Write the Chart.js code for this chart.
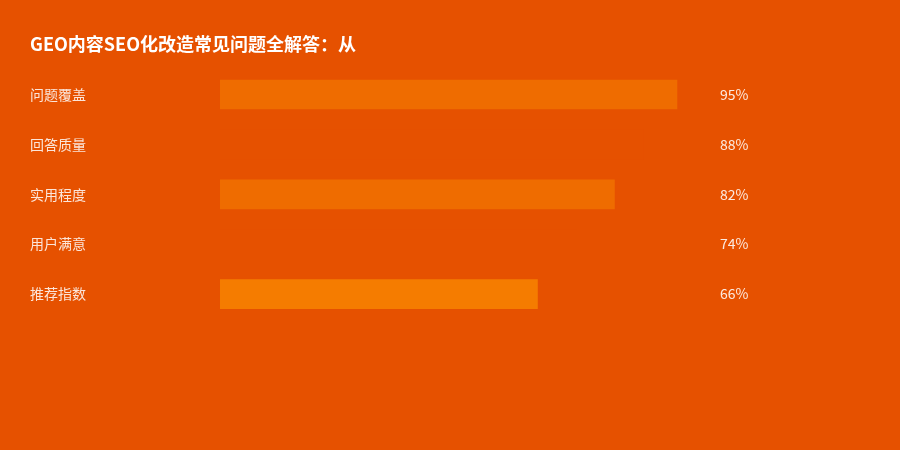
<!DOCTYPE html>
<html>
<head>
<meta charset="utf-8">
<script src="https://cdn.jsdelivr.net/npm/chart.js@4"></script>
<style>
  html, body { margin: 0; padding: 0; background: #E65100; }
  #wrap { width: 900px; height: 450px; }
</style>
</head>
<body>
<div id="wrap"><canvas id="graficoGeo"></canvas></div>
<script>
var categorias = ["问题覆盖", "回答质量", "实用程度", "用户满意", "推荐指数"];
var valores = [95, 88, 82, 74, 66];
var coresBarras = ["#EF6C00", "#E65100", "#EF6C00", "#E65100", "#F57C00"];
var titulo = "GEO内容SEO化改造常见问题全解答：从";

var fonte = "'Noto Sans CJK SC', 'Noto Sans', sans-serif";

// escreve o percentual à direita de cada barra
var rotulosValor = {
  id: "rotulosValor",
  afterDatasetsDraw: function (chart) {
    var ctx = chart.ctx;
    var meta = chart.getDatasetMeta(0);
    ctx.save();
    ctx.font = "14px " + fonte;
    ctx.fillStyle = "rgba(255, 255, 255, 0.88)";
    ctx.textAlign = "left";
    ctx.textBaseline = "middle";
    meta.data.forEach(function (bar, i) {
      ctx.fillText(valores[i] + "%", chart.chartArea.right + 19, bar.y);
    });
    ctx.restore();
  },
};

document.addEventListener("DOMContentLoaded", function () {
  var ctx = document.getElementById("graficoGeo").getContext("2d");
  var grafico = new Chart(ctx, {
    type: "bar",
    data: {
      labels: categorias,
      datasets: [
        {
          data: valores,
          backgroundColor: coresBarras,
          borderWidth: 0,
          barThickness: 29,
        },
      ],
    },
    options: {
      indexAxis: "y",
      responsive: true,
      maintainAspectRatio: false,
      animation: false,
      layout: {
        padding: { left: 30, right: 199, top: 0, bottom: 131 },
      },
      plugins: {
        legend: { display: false },
        tooltip: { enabled: false },
        title: {
          display: true,
          text: titulo,
          align: "start",
          color: "#FFFFFF",
          font: { family: fonte, size: 18, weight: "bold" },
          padding: { top: 33, bottom: 15 },
        },
      },
      scales: {
        x: {
          display: false,
          min: 0,
          max: 100,
        },
        y: {
          grid: { display: false },
          border: { display: false },
          afterFit: function (scale) {
            scale.width = 190;
          },
          ticks: {
            crossAlign: "far",
            padding: 0,
            color: "rgba(255, 255, 255, 0.85)",
            font: { family: fonte, size: 14 },
          },
        },
      },
    },
    plugins: [rotulosValor],
  });
});
</script>
</body>
</html>
